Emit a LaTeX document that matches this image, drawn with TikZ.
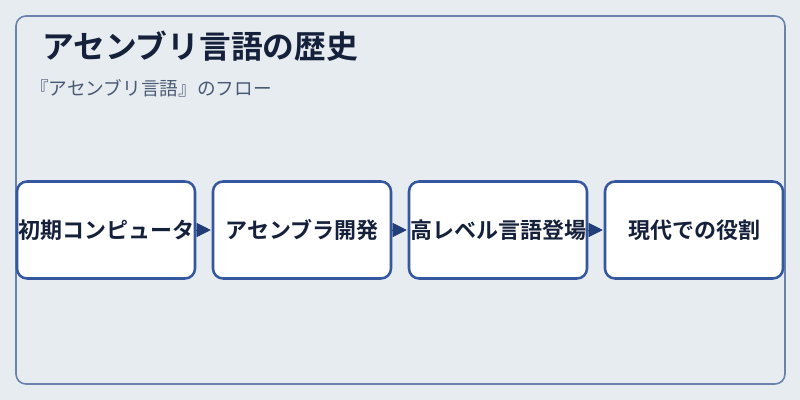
\documentclass[tikz,border=0pt]{standalone}
\usepackage{fontspec}
\setmainfont{Noto Sans CJK JP}[BoldFont={Noto Sans CJK JP Bold}]
\usetikzlibrary{arrows.meta}
\definecolor{bgcol}{HTML}{E7ECF1}
\definecolor{framecol}{HTML}{6A82AC}
\definecolor{boxcol}{HTML}{3457A0}
\definecolor{arrowcol}{HTML}{233D78}
\definecolor{titlecol}{HTML}{15203A}
\definecolor{subcol}{HTML}{4B5A74}
\begin{document}
\begin{tikzpicture}[x=0.75pt,y=-0.75pt,
    stepbox/.style={draw=boxcol, line width=1.9pt, fill=white, rounded corners=7.5pt,
      minimum width=133.5pt, minimum height=72.75pt, inner sep=0pt,
      font=\bfseries\fontsize{16.5}{20}\selectfont, text=titlecol},
    flow/.style={draw=arrowcol, line width=0.3pt, shorten >=0.75pt, -{Triangle[length=10.5pt,width=10.5pt]}}]
        \fill[bgcol] (0,0) rectangle (800,400);
        \draw[framecol, line width=1.2pt, rounded corners=7.5pt] (16,16) rectangle (785,384);

        \node[anchor=base west, inner sep=0pt, text=titlecol, font=\bfseries\fontsize{23.8}{28}\selectfont] (T) at (42,58) {アセンブリ言語の歴史};
        \node[anchor=base west, inner sep=0pt, text=subcol, font=\fontsize{14}{16}\selectfont] (S) at (30,95) {『アセンブリ言語』のフロー};

        \node[stepbox] (B1) at (106,230) {初期コンピュータ};
        \node[stepbox] (B2) at (302,230) {アセンブラ開発};
        \node[stepbox] (B3) at (498,230) {高レベル言語登場};
        \node[stepbox] (B4) at (694,230) {現代での役割};
        \draw[flow] (B1) -- (B2);
        \draw[flow] (B2) -- (B3);
        \draw[flow] (B3) -- (B4);
    \end{tikzpicture}
\end{document}
